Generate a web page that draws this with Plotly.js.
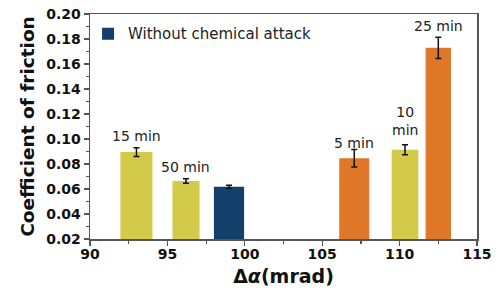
<!DOCTYPE html>
<html><head><meta charset="utf-8">
<script src="https://cdn.plot.ly/plotly-3.0.1.min.js"></script>
<style>html,body{margin:0;padding:0;background:#fff;}#chart{width:504px;height:303px;}</style>
</head><body><div id="chart"></div>
<script>
// Data
const yellowX = [93, 96.2, 110.35];
const yellowY = [0.0896, 0.0664, 0.0915];
const yellowErr = [0.0035, 0.0018, 0.004];
const yellowW = [2.07, 1.75, 1.72];
const yellowLabels = ["15 min", "50 min", "10<br>min"];

const navyX = [98.98];
const navyY = [0.0618];
const navyErr = [0.0012];
const navyW = [1.95];
const navyName = "Without chemical attack";

const orangeX = [107.07, 112.5];
const orangeY = [0.0846, 0.173];
const orangeErr = [0.007, 0.0085];
const orangeW = [1.94, 1.64];
const orangeLabels = ["5 min", "25 min"];

const xTitle = "Δ<i>α</i>(mrad)";
const yTitle = "Coefficient of friction";

// label pixel offsets (style only)
const yellowShift = [2, 2, 5];
const orangeShift = [-3, 1];

const errStyle = (arr) => ({type:'data', array: arr, visible:true, color:'#111', thickness:1.5, width:3});

const traces = [
  {type:'bar', x: yellowX, y: yellowY, width: yellowW, marker:{color:'#D4CA4A'}, error_y: errStyle(yellowErr), showlegend:false, name:'yellow'},
  {type:'bar', x: navyX, y: navyY, width: navyW, marker:{color:'#13406A'}, error_y: errStyle(navyErr), showlegend:true, name: navyName},
  {type:'bar', x: orangeX, y: orangeY, width: orangeW, marker:{color:'#DE7828'}, error_y: errStyle(orangeErr), showlegend:false, name:'orange'}
];

const labelFont = {family:'DejaVu Sans, Arial, sans-serif', size:14, color:'#222'};
const annotations = [];
function addLabels(xs, ys, errs, labels, shifts) {
  xs.forEach((x, i) => {
    annotations.push({x: x, y: ys[i] + errs[i], xref:'x', yref:'y', text: labels[i], showarrow:false,
      yanchor:'bottom', yshift: shifts[i], font: labelFont});
  });
}
addLabels(yellowX, yellowY, yellowErr, yellowLabels, yellowShift);
addLabels(orangeX, orangeY, orangeErr, orangeLabels, orangeShift);

const axisCommon = {
  showline:true, linecolor:'#555', linewidth:1.5, mirror:true,
  ticks:'outside', ticklen:5, tickwidth:1.2, tickcolor:'#555',
  showgrid:false, zeroline:false,
  tickfont:{family:'DejaVu Sans, Arial, sans-serif', size:14, color:'#111', weight:'bold'}
};

const layout = {
  width:504, height:303,
  margin:{l:90, r:27, t:14, b:64},
  paper_bgcolor:'#fff', plot_bgcolor:'#fff',
  barmode:'overlay',
  xaxis: Object.assign({}, axisCommon, {
    range:[90,115], dtick:5, tick0:90, ticklabelstandoff:-3,
    minor:{dtick:2.5, ticklen:3, tickcolor:'#555', ticks:'outside'},
    title:{text:xTitle, font:{family:'DejaVu Sans, Arial, sans-serif', size:19, color:'#111', weight:'bold'}, standoff:8}
  }),
  yaxis: Object.assign({}, axisCommon, {
    range:[0.02,0.20], dtick:0.02, tick0:0.02, tickformat:'.2f',
    minor:{dtick:0.01, ticklen:3, tickcolor:'#555', ticks:'outside'},
    title:{text:yTitle, font:{family:'DejaVu Sans, Arial, sans-serif', size:18.5, color:'#111', weight:'bold'}, standoff:6}
  }),
  legend:{x:-0.005, y:0.985, xanchor:'left', yanchor:'top', bgcolor:'rgba(0,0,0,0)',
    font:{family:'DejaVu Sans, Arial, sans-serif', size:15, color:'#222'}},
  annotations: annotations
};

Plotly.newPlot('chart', traces, layout, {staticPlot:true, displayModeBar:false});
</script></body></html>
